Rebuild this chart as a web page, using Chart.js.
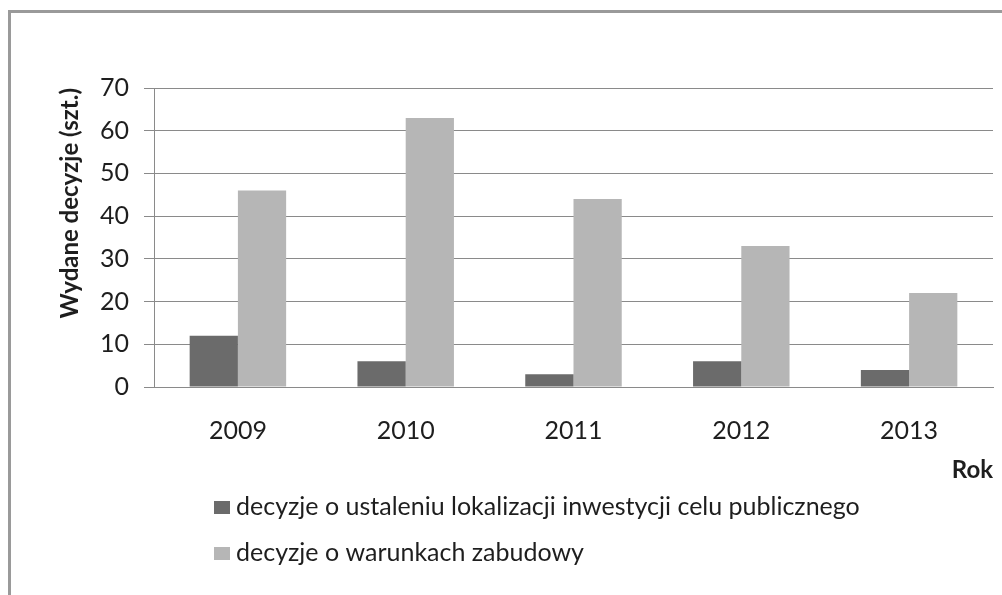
<!DOCTYPE html>
<html>
<head>
<meta charset="utf-8">
<script src="https://cdn.jsdelivr.net/npm/chart.js@4/dist/chart.umd.min.js"></script>
<style>
    html, body { margin: 0; padding: 0; background: #fff; }
    #wrap { position: relative; width: 1002px; height: 595px; overflow: hidden; }
    #frame { position: absolute; left: 8px; top: 10px; width: 1100px; height: 700px;
             border-left: 3px solid #9a9a9a; border-top: 3px solid #9a9a9a; }
    canvas { position: absolute; left: 0; top: 0; }
</style>
</head>
<body>
<div id="wrap">
    <div id="frame"></div>
    <canvas id="chart" width="1002" height="595"></canvas>
</div>
<script>
// Data
const years = ['2009', '2010', '2011', '2012', '2013'];
const lokalizacja = [12, 6, 3, 6, 4];   // decyzje o ustaleniu lokalizacji...
const zabudowa = [46, 63, 44, 33, 22];   // decyzje o warunkach zabudowy
const seriesNames = [
    'decyzje o ustaleniu lokalizacji inwestycji celu publicznego',
    'decyzje o warunkach zabudowy'
];
const yTicks = [0, 10, 20, 30, 40, 50, 60, 70];

const FONT = 'Lato, "Open Sans", sans-serif';
const TEXT = '#1e1e1e';
const GRID = '#8a8a8a';

// Legend stacked below the axis, one item per line
const stackedLegend = {
    id: 'stackedLegend',
    afterDraw(chart) {
        const ctx = chart.ctx;
        const items = Chart.defaults.plugins.legend.labels.generateLabels(chart);
        ctx.save();
        ctx.font = '25px ' + FONT;
        ctx.textBaseline = 'middle';
        items.forEach((item, i) => {
            const y = 507 + i * 46;
            ctx.fillStyle = item.fillStyle;
            ctx.fillRect(214, y - 6, 16, 13);
            ctx.fillStyle = TEXT;
            ctx.fillText(chart.data.datasets[i].label, 236, y);
        });
        ctx.restore();
    }
};

new Chart(document.getElementById('chart'), {
    type: 'bar',
    data: {
        labels: years,
        datasets: [
            { label: seriesNames[0], data: lokalizacja, backgroundColor: '#6b6b6b' },
            { label: seriesNames[1], data: zabudowa, backgroundColor: '#b6b6b6' }
        ]
    },
    options: {
        responsive: false,
        animation: false,
        devicePixelRatio: 1,
        layout: { padding: { left: 52, top: 88, right: 9, bottom: 98 } },
        datasets: { bar: { barPercentage: 1, categoryPercentage: 0.575 } },
        plugins: {
            legend: { display: false },
            tooltip: { enabled: false }
        },
        scales: {
            x: {
                grid: { display: false, drawTicks: false },
                border: { display: true, color: GRID, width: 1 },
                ticks: { color: TEXT, font: { family: FONT, size: 25 }, padding: 29 },
                title: {
                    display: true, text: 'Rok', align: 'end', color: TEXT,
                    font: { family: FONT, size: 24, weight: 'bold' },
                    padding: { top: 0, bottom: 12 }
                },
                afterFit: s => { s.height = 110; }
            },
            y: {
                min: 0, max: 70,
                afterBuildTicks: s => { s.ticks = yTicks.map(v => ({ value: v })); },
                grid: { color: GRID, lineWidth: 1, tickLength: 10, drawTicks: true },
                border: { display: true, color: GRID, width: 1 },
                ticks: { color: TEXT, font: { family: FONT, size: 25 }, padding: 15 },
                title: {
                    display: true, text: 'Wydane decyzje (szt.)', align: 'end', color: TEXT,
                    font: { family: FONT, size: 24, weight: 'bold' },
                    padding: { top: 4, bottom: 4 }
                },
                afterFit: s => { s.width = 102; }
            }
        }
    },
    plugins: [stackedLegend]
});
</script>
</body>
</html>
